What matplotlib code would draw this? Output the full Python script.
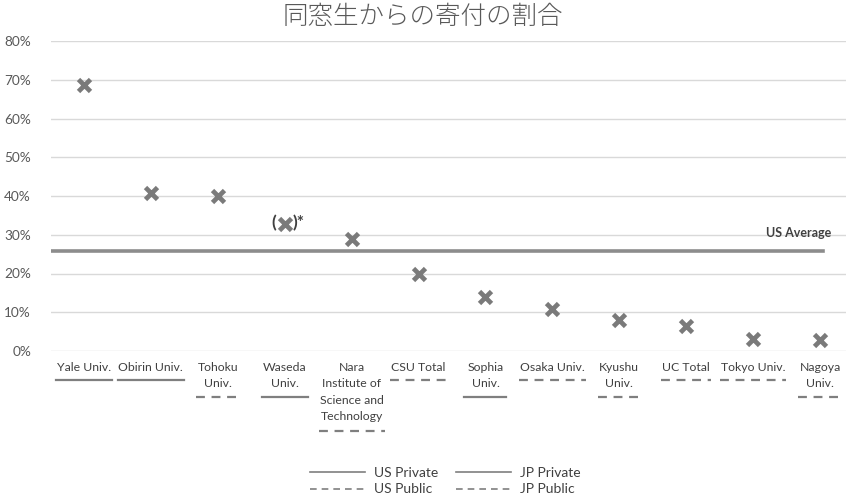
import matplotlib
matplotlib.use("Agg")
import matplotlib.pyplot as plt
from matplotlib.lines import Line2D
from matplotlib.ticker import PercentFormatter

plt.rcParams['font.family'] = ['Lato', 'DejaVu Sans']

labels = ["Yale Univ.", "Obirin Univ.", "Tohoku\nUniv.", "Waseda\nUniv.",
          "Nara\nInstitute of\nScience and\nTechnology", "CSU Total",
          "Sophia\nUniv.", "Osaka Univ.", "Kyushu\nUniv.", "UC Total",
          "Tokyo Univ.", "Nagoya\nUniv."]
values = [0.686, 0.407, 0.400, 0.328, 0.289, 0.199, 0.139, 0.108, 0.080, 0.065, 0.031, 0.028]
# True = private (solid underline), False = public (dashed underline)
private = [True, True, False, True, False, False, True, False, False, False, False, False]
us_average = 0.258
estimated = "Waseda\nUniv."

W, H = 846, 498
fig = plt.figure(figsize=(W / 100, H / 100), dpi=100)
ax = fig.add_axes([50.5 / W, 147 / H, 803 / W, 310 / H])

x = list(range(len(labels)))
ax.plot(x, values, linestyle='none', marker='x', markersize=8,
        markeredgewidth=3.4, color='#7a7a7a', zorder=3)
ax.plot([-0.55, 11.05], [us_average, us_average], color='#8c8c8c', lw=2.6, zorder=2)
ax.annotate("US Average", xy=(10.68, us_average), xytext=(0, 18),
            textcoords='offset pixels', fontsize=9, fontweight='bold',
            color='#404040', ha='center', va='center')

i = labels.index(estimated)
ax.annotate("(", xy=(i, values[i]), xytext=(-11, 1), textcoords='offset pixels',
            fontsize=12.5, fontweight='bold', color='#404040', ha='center', va='center')
ax.annotate(")*", xy=(i, values[i]), xytext=(8, 1), textcoords='offset pixels',
            fontsize=12.5, fontweight='bold', color='#404040', ha='left', va='center')

ax.set_xlim(-0.5, len(labels) - 0.5)
ax.set_ylim(0, 0.8)
ax.set_yticks([k / 10 for k in range(9)])
ax.yaxis.set_major_formatter(PercentFormatter(1.0, decimals=0))
ax.set_xticks([])
ax.tick_params(axis='y', length=0, labelsize=9.8, labelcolor='#595959', pad=14)
ax.grid(axis='y', color='#d9d9d9', lw=1)
for s in ax.spines.values():
    s.set_visible(False)
ax.set_axisbelow(True)

fig.text(423 / W, 1 - 17 / H, "同窓生からの寄付の割合", fontsize=18.4,
         family=['Noto Sans CJK JP', 'DejaVu Sans'], fontweight='light',
         color='#595959', ha='center', va='center')

texts = []
for xi, lab in zip(x, labels):
    t = ax.annotate(lab, xy=(xi, 0), xycoords=('data', 'axes fraction'),
                    xytext=(0, -11), textcoords='offset pixels', ha='center',
                    va='top', fontsize=8.8, color='#404040', linespacing=1.6,
                    annotation_clip=False)
    texts.append(t)

fig.canvas.draw()
r = fig.canvas.get_renderer()
for t, lab, priv in zip(texts, labels, private):
    bb = t.get_window_extent(r)
    n = lab.count("\n") + 1
    ypix = 379.5 + 17 * (n - 1)
    w = max(bb.width + 2, 42)
    cx = (bb.x0 + bb.x1) / 2
    ln = Line2D([(cx - w / 2) / W, (cx + w / 2) / W], [1 - ypix / H, 1 - ypix / H],
                transform=fig.transFigure, color='#7f7f7f', lw=1.6,
                linestyle='-' if priv else (0, (4, 3)))
    fig.add_artist(ln)

handles = [Line2D([], [], color='#7f7f7f', lw=1.2, linestyle='-'),
           Line2D([], [], color='#7f7f7f', lw=1.2, linestyle=(0, (4, 3))),
           Line2D([], [], color='#7f7f7f', lw=1.2, linestyle='-'),
           Line2D([], [], color='#7f7f7f', lw=1.2, linestyle=(0, (4, 3)))]
fig.legend(handles, ["US Private", "US Public", "JP Private", "JP Public"],
           ncol=2, loc='center', bbox_to_anchor=(445 / W, 1 - 481 / H),
           frameon=False, fontsize=10, handlelength=4.0, columnspacing=1.3,
           labelspacing=0.35, handletextpad=0.6, labelcolor='#404040')

fig.savefig("out.png", dpi=100)
